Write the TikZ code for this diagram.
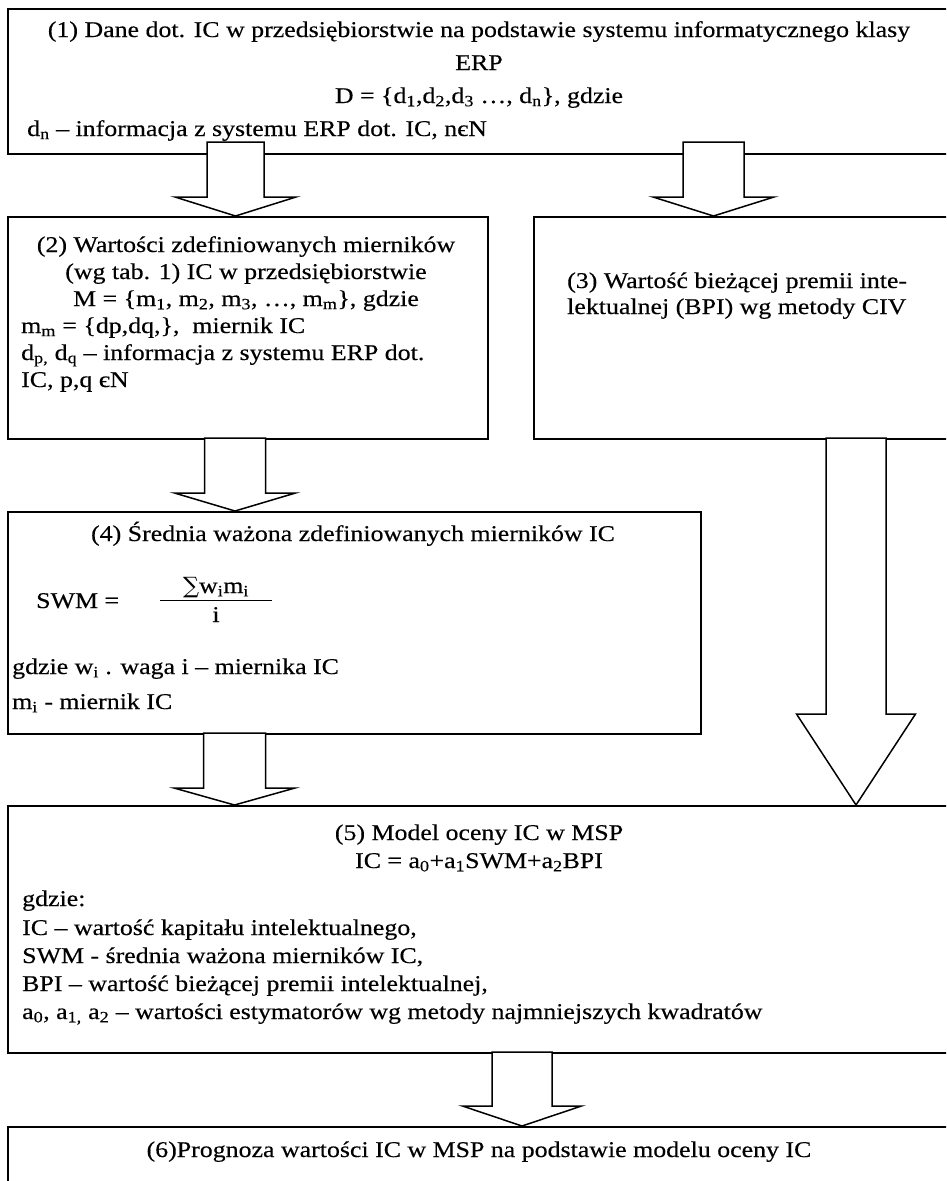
\documentclass[tikz,border=0pt]{standalone}
\usepackage{fontspec}
\setmainfont{Liberation Serif}[FakeStretch=1.15,FakeBold=0.3]
\newfontfamily\symf{DejaVu Serif}
\newcommand{\fs}{\fontsize{22.5}{26}\selectfont}
\newcommand{\sub}[1]{\textsubscript{#1}}
% block arrow: #1 name, #2 cx, #3 top, #4 head base, #5 tip, #6 half shaft, #7 half head
\newcommand{\blockarr}[7]{%
  \draw[arr] (#2-#6,#3) coordinate (#1s) -- (#2+#6,#3) -- (#2+#6,#4) -- (#2+#7,#4)
     -- (#2,#5) coordinate (#1t) -- (#2-#7,#4) -- (#2-#6,#4) -- cycle;}
\begin{document}
\begin{tikzpicture}[x=1pt,y=-1pt,
  box/.style={draw, line width=1.5pt, fill=white, inner sep=0pt, anchor=north west},
  arr/.style={draw, line width=1.5pt, fill=white, line join=miter},
  t/.style={inner sep=0pt, anchor=base west, font=\fs},
  tc/.style={inner sep=0pt, anchor=base, font=\fs}]
\useasboundingbox (0,0) rectangle (946,1181);
\clip (0,0) rectangle (946,1181);
\fill[white] (0,0) rectangle (946,1181);

% boxes
\node[box, minimum width=945pt, minimum height=145pt] (b1) at (7,8) {};
\node[box, minimum width=480pt, minimum height=222pt] (b2) at (7,216) {};
\node[box, minimum width=427pt, minimum height=222pt] (b3) at (533,216) {};
\node[box, minimum width=693pt, minimum height=222pt] (b4) at (7,511) {};
\node[box, minimum width=945pt, minimum height=247pt] (b5) at (7,805) {};
\node[box, minimum width=945pt, minimum height=100pt] (b6) at (7,1126) {};

% box 1 text
\node[tc] (t1a) at (479,37) {(1) Dane dot. IC w przedsiębiorstwie na podstawie systemu informatycznego klasy};
\node[tc] (t1b) at (479,70) {ERP};
\node[tc] (t1c) at (479,103) {D = \{d\sub{1},d\sub{2},d\sub{3} …, d\sub{n}\}, gdzie};
\node[t]  (t1d) at (27,136) {d\sub{n} – informacja z systemu ERP dot. IC, nєN};

% box 2 text
\node[tc] (t2a) at (246,252) {(2) Wartości zdefiniowanych mierników};
\node[tc] (t2b) at (246,279) {(wg tab. 1) IC w przedsiębiorstwie};
\node[tc] (t2c) at (246,306) {M = \{m\sub{1}, m\sub{2}, m\sub{3}, …, m\sub{m}\}, gdzie};
\node[t]  (t2d) at (21,333) {m\sub{m} = \{dp,dq,\},\ \ miernik IC};
\node[t]  (t2e) at (21,360) {d\sub{p,} d\sub{q} – informacja z systemu ERP dot.};
\node[t]  (t2f) at (21,387) {IC, p,q єN};

% box 3 text
\node[t] (t3a) at (567,288) {(3) Wartość bieżącej premii inte-};
\node[t] (t3b) at (567,314) {lektualnej (BPI) wg metody CIV};

% box 4 text
\node[tc] (t4a) at (353,541) {(4) Średnia ważona zdefiniowanych mierników IC};
\node[t]  (t4b) at (36,608) {SWM =};
\node[tc] (t4n) at (216,593) {{\symf ∑}w\sub{i}m\sub{i}};
\draw[line width=0.9pt] (160,600) -- (272,600);
\node[tc] (t4d) at (216,622) {i};
\node[t]  (t4c) at (12,674) {gdzie w\sub{i} . waga i – miernika IC};
\node[t]  (t4e) at (12,709) {m\sub{i} - miernik IC};

% box 5 text
\node[tc] (t5a) at (479,840) {(5) Model oceny IC w MSP};
\node[tc] (t5b) at (479,868) {IC = a\sub{0}+a\sub{1}SWM+a\sub{2}BPI};
\node[t]  (t5c) at (22,906) {gdzie:};
\node[t]  (t5d) at (22,935) {IC – wartość kapitału intelektualnego,};
\node[t]  (t5e) at (22,963) {SWM - średnia ważona mierników IC,};
\node[t]  (t5f) at (22,991) {BPI – wartość bieżącej premii intelektualnej,};
\node[t]  (t5g) at (22,1019) {a\sub{0}, a\sub{1,} a\sub{2} – wartości estymatorów wg metody najmniejszych kwadratów};

% box 6 text
\node[tc] (t6a) at (479,1157) {(6)Prognoza wartości IC w MSP na podstawie modelu oceny IC};

% block arrows (connectors between boxes)
\blockarr{a12}{235.5}{142}{197}{216}{28.5}{60.5}
\blockarr{a13}{713.5}{142}{197}{216}{30.5}{60.5}
\blockarr{a24}{235}{438}{493}{511}{30.5}{60.5}
\blockarr{a35}{856}{438}{714}{805}{30}{59.5}
\blockarr{a45}{234.5}{733}{788}{805}{31}{60.5}
\blockarr{a56}{522}{1052}{1106}{1126}{30}{59.5}
\end{tikzpicture}
\end{document}
